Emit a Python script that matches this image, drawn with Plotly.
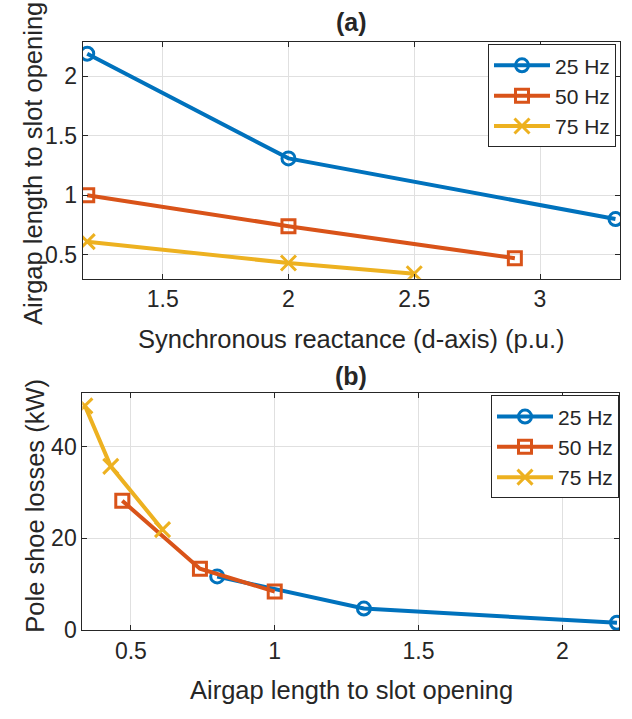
import plotly.graph_objects as go

# Frequencies and series
freqs = ["25 Hz", "50 Hz", "75 Hz"]
colors = ["#0072BD", "#D95319", "#EDB120"]
symbols = ["circle-open", "square-open", "x-thin-open"]

# Synchronous reactance (d-axis), p.u.
xd_25 = [1.2, 2.0, 3.3]
xd_50 = [1.2, 2.0, 2.9]
xd_75 = [1.2, 2.0, 2.5]

# Airgap length to slot opening ratio
ratio_25 = [2.19, 1.31, 0.80]
ratio_50 = [1.00, 0.74, 0.47]
ratio_75 = [0.61, 0.43, 0.34]

# Pole shoe losses, kW
loss_25 = [1.6, 4.7, 11.7]
loss_50 = [8.4, 13.4, 28.2]
loss_75 = [21.9, 35.7, 48.9]

xd = [xd_25, xd_50, xd_75]
ratio = [ratio_25, ratio_50, ratio_75]
loss = [loss_25, loss_50, loss_75]

W, H = 632, 719
TXT = "#262626"
FONT = "Liberation Sans, Arial, sans-serif"
MSIZE = [13, 13, 15]

fig = go.Figure()

for i in range(3):
    fig.add_trace(go.Scatter(
        x=xd[i], y=ratio[i], mode="lines+markers", name=freqs[i],
        line=dict(color=colors[i], width=4),
        marker=dict(symbol=symbols[i], size=MSIZE[i], color=colors[i],
                    line=dict(color=colors[i], width=3)),
        xaxis="x", yaxis="y", legend="legend",
    ))
for i in range(3):
    fig.add_trace(go.Scatter(
        x=ratio[i], y=loss[i], mode="lines+markers", name=freqs[i],
        line=dict(color=colors[i], width=4),
        marker=dict(symbol=symbols[i], size=MSIZE[i], color=colors[i],
                    line=dict(color=colors[i], width=3)),
        xaxis="x2", yaxis="y2", legend="legend2",
    ))


def px_x(p):
    return p / W


def px_y(p):
    return 1 - p / H


axis_common = dict(
    showline=True, linecolor=TXT, linewidth=1, mirror="ticks",
    ticks="inside", ticklen=5, tickcolor=TXT, tickwidth=1,
    showgrid=True, gridcolor="#e0e0e0", gridwidth=1,
    zeroline=False,
    tickfont=dict(family=FONT, size=23, color=TXT),
)

legend_common = dict(
    xanchor="right", yanchor="top",
    bgcolor="white", bordercolor=TXT, borderwidth=1,
    font=dict(family=FONT, size=21, color=TXT),
    itemwidth=56, tracegroupgap=0,
)

fig.update_layout(
    width=W, height=H,
    margin=dict(l=0, r=0, t=0, b=0),
    paper_bgcolor="white", plot_bgcolor="white",
    showlegend=True,
    xaxis=dict(domain=[px_x(82.7), px_x(620)], anchor="y",
               range=[1.182, 3.318], tickvals=[1.5, 2, 2.5, 3],
               ticktext=["1.5", "2", "2.5", "3"], **axis_common),
    yaxis=dict(domain=[px_y(284), px_y(42.7)], anchor="x",
               range=[0.297, 2.289], tickvals=[0.5, 1, 1.5, 2],
               ticktext=["0.5", "1", "1.5", "2"], **axis_common),
    xaxis2=dict(domain=[px_x(82.3), px_x(619)], anchor="y2",
                range=[0.331, 2.197], tickvals=[0.5, 1, 1.5, 2],
                ticktext=["0.5", "1", "1.5", "2"], **axis_common),
    yaxis2=dict(domain=[px_y(641.7), px_y(400.7)], anchor="x2",
                range=[0, 51.6], tickvals=[0, 20, 40],
                ticktext=["0", "20", "40"], **axis_common),
    legend=dict(x=px_x(616), y=px_y(45), **legend_common),
    legend2=dict(x=px_x(619), y=px_y(402.7), **legend_common),
)

annotations = [
    dict(text="<b>(a)</b>", x=px_x(351), y=px_y(22), size=25),
    dict(text="<b>(b)</b>", x=px_x(351), y=px_y(383), size=25),
    dict(text="Synchronous reactance (d-axis) (p.u.)", x=px_x(351), y=px_y(345), size=25.5),
    dict(text="Airgap length to slot opening", x=px_x(351), y=px_y(703), size=25.5),
    dict(text="Airgap length to slot opening", x=px_x(33), y=px_y(167), size=25.5, angle=-90),
    dict(text="Pole shoe losses (kW)", x=px_x(35), y=px_y(515), size=25.5, angle=-90),
]
for a in annotations:
    fig.add_annotation(
        text=a["text"], x=a["x"], y=a["y"], xref="paper", yref="paper",
        xanchor="center", yanchor="middle", showarrow=False,
        textangle=a.get("angle", 0),
        font=dict(family=FONT, size=a["size"], color=TXT),
    )

fig.write_html("out.html")
